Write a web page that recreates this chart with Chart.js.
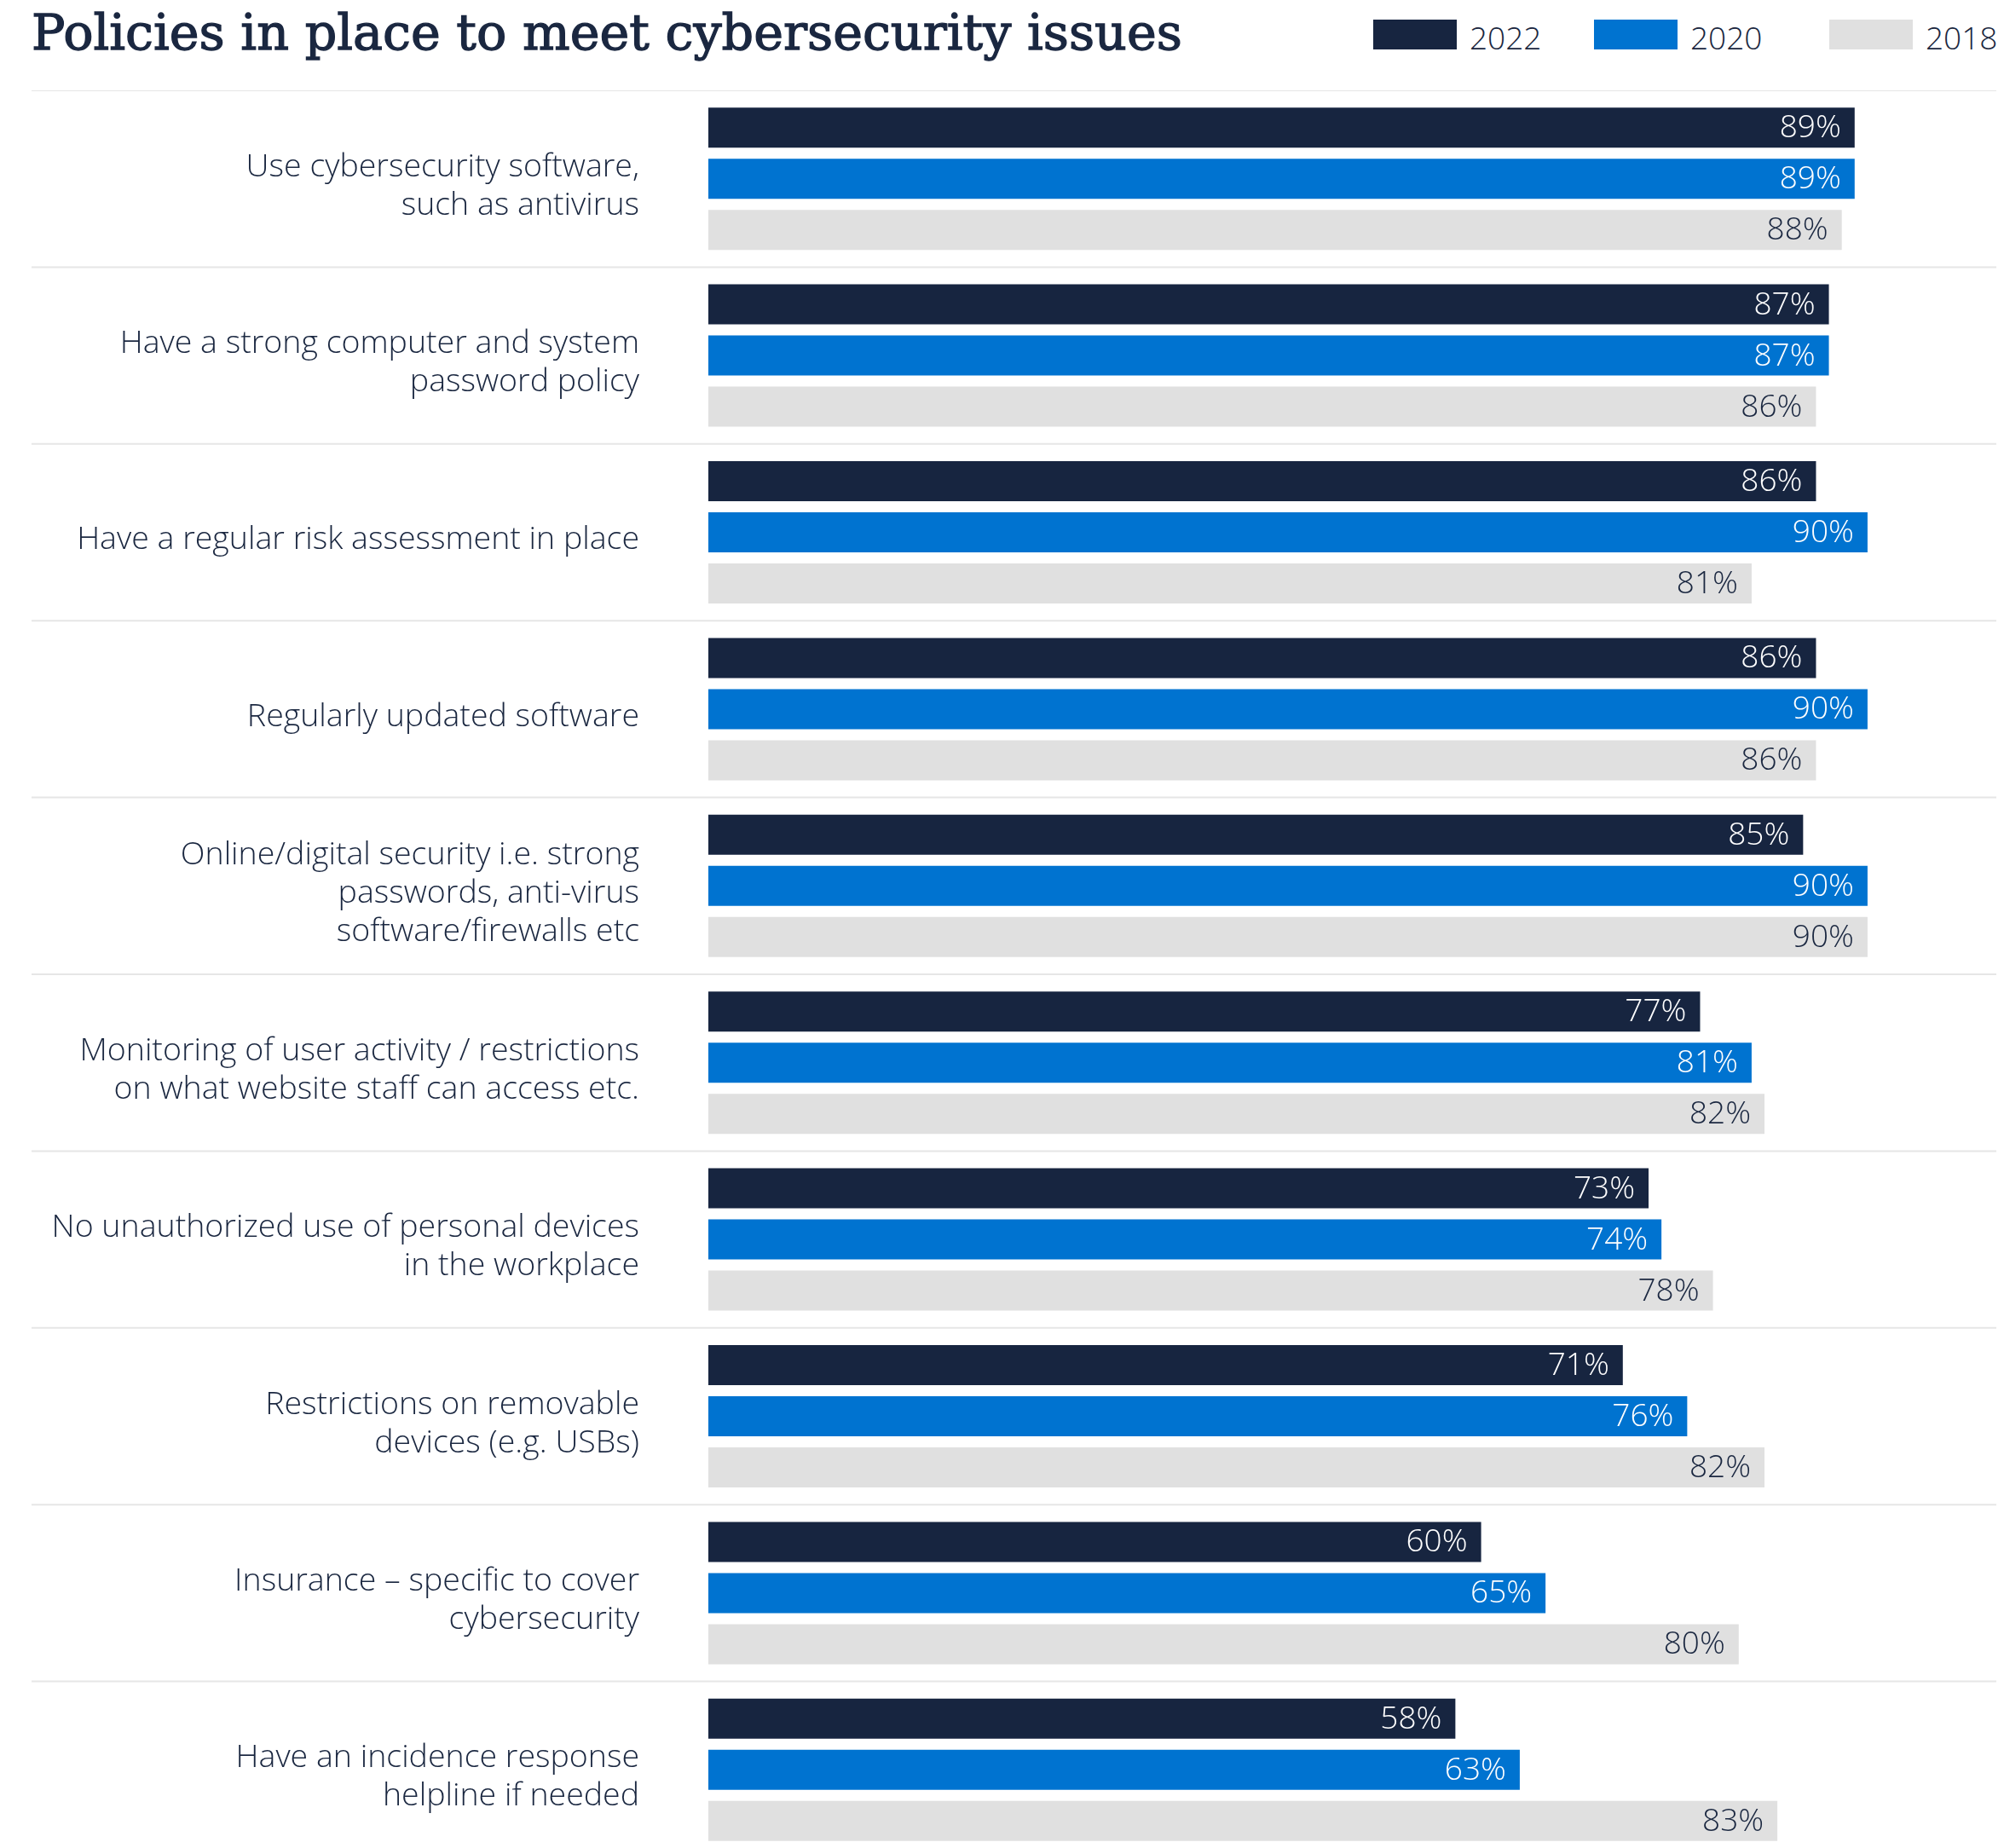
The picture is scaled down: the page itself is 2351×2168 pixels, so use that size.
<!DOCTYPE html>
<html>
<head>
<meta charset="utf-8">
<script src="https://cdn.jsdelivr.net/npm/chart.js@4"></script>
<style>
  html, body { margin: 0; padding: 0; background: #fff; overflow: hidden; }
  body { width: 2351px; height: 2168px; position: relative; }
  #title {
    position: absolute; left: 37px; top: 9px;
    font-family: "DejaVu Serif", serif; font-weight: normal;
    font-size: 58px; line-height: 1; color: #1a2740; white-space: nowrap;
    -webkit-text-stroke: 1.3px #1a2740;
    transform-origin: left top;
  }
  .legBox { position: absolute; top: 23px; width: 98px; height: 35px; }
  .legText {
    position: absolute; top: 25px;
    font-family: "Open Sans", sans-serif; font-weight: 300; font-size: 37px; line-height: 1; color: #1a2740;
  }
  #wrap { position: absolute; left: 0; top: 106px; width: 2351px; height: 2074px; }
</style>
</head>
<body>
<div id="title">Policies in place to meet cybersecurity issues</div>
<div id="legend"></div>
<div id="wrap"><canvas id="policyChart"></canvas></div>

<script>
const categories = [
  ["Use cybersecurity software,", "such as antivirus"],
  ["Have a strong computer and system", "password policy"],
  "Have a regular risk assessment in place",
  "Regularly updated software",
  ["Online/digital security i.e. strong", "passwords, anti-virus", "software/firewalls etc"],
  ["Monitoring of user activity / restrictions", "on what website staff can access etc."],
  ["No unauthorized use of personal devices", "in the workplace"],
  ["Restrictions on removable", "devices (e.g. USBs)"],
  ["Insurance – specific to cover", "cybersecurity"],
  ["Have an incidence response", "helpline if needed"]
];

const seriesNames = ["2022", "2020", "2018"];
const values2022 = [89, 87, 86, 86, 85, 77, 73, 71, 60, 58];
const values2020 = [89, 87, 90, 90, 90, 81, 74, 76, 65, 63];
const values2018 = [88, 86, 81, 86, 90, 82, 78, 82, 80, 83];

const colors = ["#172540", "#0073d0", "#e0e0e0"];
const labelColors = ["#ffffff", "#ffffff", "#1a2740"];

// squeeze the title to the width it has in the original
const title = document.getElementById("title");
title.style.transform = "scaleX(" + (1350 / title.offsetWidth) + ")";

// legend (html, above the canvas)
const legendX = [1611, 1870, 2146];
const legend = document.getElementById("legend");
seriesNames.forEach((name, i) => {
  const box = document.createElement("div");
  box.className = "legBox";
  box.style.left = legendX[i] + "px";
  box.style.background = colors[i];
  legend.appendChild(box);
  const txt = document.createElement("div");
  txt.className = "legText";
  txt.style.left = (legendX[i] + 113) + "px";
  txt.textContent = name;
  legend.appendChild(txt);
});

// separators between categories, running under the labels too
const separators = {
  id: "separators",
  beforeDraw(chart) {
    const y = chart.scales.y;
    const ctx = chart.ctx;
    const step = y.getPixelForValue(1) - y.getPixelForValue(0);
    ctx.save();
    ctx.strokeStyle = "#e6e6e6";
    ctx.lineWidth = 2;
    for (let i = 0; i <= categories.length; i++) {
      const py = y.getPixelForValue(i) - step / 2;
      ctx.beginPath();
      ctx.moveTo(37, py);
      ctx.lineTo(chart.chartArea.right, py);
      ctx.stroke();
    }
    ctx.restore();
  }
};

// value labels inside the bar ends
const valueLabels = {
  id: "valueLabels",
  afterDatasetsDraw(chart) {
    const ctx = chart.ctx;
    ctx.save();
    ctx.font = '300 37px "Open Sans"';
    ctx.textAlign = "right";
    ctx.textBaseline = "middle";
    chart.data.datasets.forEach((ds, di) => {
      chart.getDatasetMeta(di).data.forEach((bar, i) => {
        ctx.fillStyle = labelColors[di];
        ctx.fillText(ds.data[i] + "%", bar.x - 16, bar.y + 1);
      });
    });
    ctx.restore();
  }
};

function draw() {
  const ctx = document.getElementById("policyChart").getContext("2d");
  new Chart(ctx, {
    type: "bar",
    data: {
      labels: categories,
      datasets: [values2022, values2020, values2018].map((vals, i) => ({
        label: seriesNames[i],
        data: vals,
        backgroundColor: colors[i],
        borderWidth: 0,
        barPercentage: 0.783,
        categoryPercentage: 0.868
      }))
    },
    options: {
      indexAxis: "y",
      responsive: true,
      maintainAspectRatio: false,
      animation: false,
      layout: { padding: { left: 0, right: 9, top: 0, bottom: 0 } },
      plugins: {
        legend: { display: false },
        tooltip: { enabled: false }
      },
      scales: {
        x: {
          display: false,
          min: 0,
          max: 100
        },
        y: {
          afterFit(scale) {
            scale.width = 831;
            scale.paddingTop = 0;
            scale.paddingBottom = 0;
          },
          grid: { display: false, drawTicks: false },
          border: { display: false },
          ticks: {
            padding: 81,
            labelOffset: 9,
            color: "#1a2740",
            font: { family: "Open Sans", weight: 300, size: 37.5, lineHeight: 1.2 }
          }
        }
      }
    },
    plugins: [separators, valueLabels]
  });
}

Promise.all([
  document.fonts.load('300 37px "Open Sans"'),
  document.fonts.load('37px "Open Sans"')
]).then(draw, draw);
</script>
</body>
</html>
